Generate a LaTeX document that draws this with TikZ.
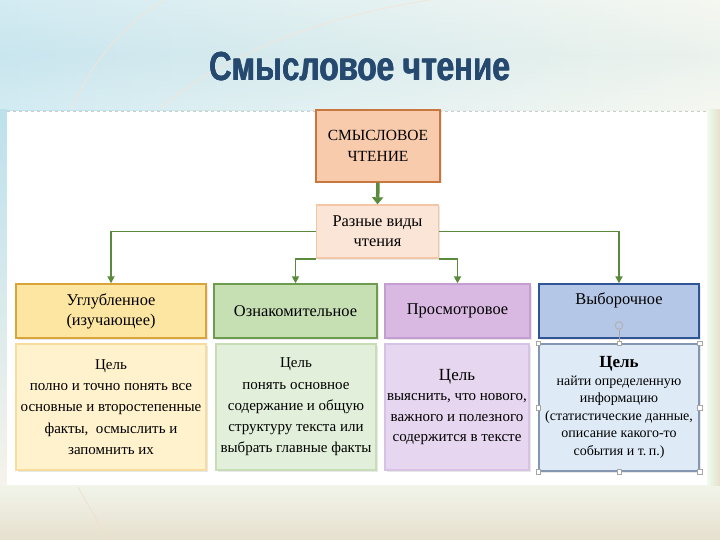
\documentclass[tikz,border=0pt]{standalone}
\usepackage{fontspec}
\setmainfont{Liberation Serif}
\newfontfamily\titlefont{Liberation Sans}
\usetikzlibrary{arrows.meta,shadows}
\definecolor{bgL}{HTML}{BCE1EC}
\definecolor{bgM}{HTML}{E2EFF2}
\definecolor{bgR}{HTML}{F1F4EA}
\definecolor{beige}{HTML}{E6E0CD}
\definecolor{titleC}{HTML}{25496F}
\definecolor{conn}{HTML}{5A8A3C}
\definecolor{topF}{HTML}{F8CBAD}\definecolor{topD}{HTML}{C8773F}
\definecolor{kindF}{HTML}{FBE5D6}\definecolor{kindD}{HTML}{F2C6A6}
\definecolor{yF}{HTML}{FDE6A2}\definecolor{yD}{HTML}{D9A53A}
\definecolor{gF}{HTML}{C6E0B4}\definecolor{gD}{HTML}{6E9C4E}
\definecolor{pF}{HTML}{D9B8E2}\definecolor{pD}{HTML}{C49ED2}
\definecolor{bF}{HTML}{B4C7E7}\definecolor{bD}{HTML}{2F5597}
\definecolor{ylF}{HTML}{FFF2CC}\definecolor{ylD}{HTML}{F6DD9C}
\definecolor{glF}{HTML}{E2EFDA}\definecolor{glD}{HTML}{C6DDB6}
\definecolor{plF}{HTML}{E7D6F0}\definecolor{plD}{HTML}{D8C2E4}
\definecolor{blF}{HTML}{DEEBF7}\definecolor{blD}{HTML}{8497B0}
\tikzset{
  box/.style={draw, line width=1.4pt, align=center, inner sep=2pt,
    drop shadow={opacity=0.18, shadow xshift=1.5pt, shadow yshift=-1.5pt}},
  head/.style={font=\fontsize{16.4}{20}\selectfont},
  goal/.style={font=\fontsize{15}{21.3}\selectfont},
  connline/.style={draw=conn, line width=1.7pt, -{Triangle[width=7pt,length=7pt]}},
  handle/.style={draw=gray!70, fill=white, line width=0.5pt, minimum size=4.5pt, inner sep=0pt},
  ttl/.style={text=titleC, font=\titlefont\bfseries\fontsize{30}{30}\selectfont},
}
\begin{document}
\begin{tikzpicture}[x=1pt,y=-1pt]
\useasboundingbox (0,0) rectangle (720,540);
% background
\shade[left color=bgL, middle color=bgM, right color=bgR] (0,0) rectangle (720,540);
\shade[top color=white, bottom color=white, middle color=bgM, opacity=0.35] (0,0) rectangle (720,110);
\shade[top color=bgR, bottom color=beige] (0,485) rectangle (720,540);
\shade[top color=bgL, bottom color=white!60!beige] (0,110) rectangle (7,485);
\shade[left color=white!70!bgR!95!green, right color=beige] (707,110) rectangle (720,485);
\draw[white!80!brown, line width=0.8pt] (72,108) .. controls (95,55) and (130,20) .. (165,0);
\draw[white!80!brown, line width=0.8pt] (160,108) .. controls (230,50) and (330,15) .. (430,0);
\draw[white!75!brown, line width=0.8pt] (78,487) -- (108,540);
% title (slightly emboldened by overprinting)
\node[ttl] at (359.6,67) {\scalebox{1.05}[1.35]{Смысловое чтение}};
\node[ttl] at (360.4,67) {\scalebox{1.05}[1.35]{Смысловое чтение}};
\node[ttl] (title) at (360,67) {\scalebox{1.05}[1.35]{Смысловое чтение}};
% panel
\fill[white] (7,111) rectangle (707,485);
\draw[gray!40, dashed, line width=0.5pt] (7,111) -- (707,111);
% boxes
\node[box, fill=topF, draw=topD, minimum width=124pt, minimum height=72pt,
  font=\fontsize{15.5}{21}\selectfont] (top) at (378,146) {СМЫСЛОВОЕ\\ЧТЕНИЕ};
\node[box, head, fill=kindF, draw=kindD, minimum width=122pt, minimum height=53pt] (kinds) at (377.5,231.5) {Разные виды\\чтения};
\node[box, head, fill=yF, draw=yD, minimum width=190pt, minimum height=54pt] (deep) at (111,311) {Углубленное\\(изучающее)};
\node[box, head, fill=gF, draw=gD, minimum width=163pt, minimum height=54pt] (intro) at (295.5,311) {Ознакомительное};
\node[box, head, fill=pF, draw=pD, minimum width=145pt, minimum height=54pt] (view) at (457.5,311) {Просмотровое};
\node[box, fill=bF, draw=bD, minimum width=160pt, minimum height=54pt] (sel) at (619,311) {};
\node[head] (seltext) at (619,300) {Выборочное};
% goal boxes
\node[box, goal, fill=ylF, draw=ylD, minimum width=190pt, minimum height=126pt] (g1) at (111,407)
  {Цель\\полно и точно понять все\\основные и второстепенные\\факты,\ \ осмыслить и\\запомнить их};
\node[box, goal, fill=glF, draw=glD, minimum width=160pt, minimum height=126pt] (g2) at (296,407)
  {Цель\\понять основное\\содержание и общую\\структуру текста или\\выбрать главные факты};
\node[box, fill=plF, draw=plD, minimum width=144pt, minimum height=126pt,
  font=\fontsize{15}{20.5}\selectfont] (g3) at (457,407)
  {{\fontsize{17}{20.5}\selectfont Цель}\\выяснить, что нового,\\важного и полезного\\содержится в тексте};
\node[box, fill=blF, draw=blD, minimum width=160pt, minimum height=127pt,
  font=\fontsize{14}{17.5}\selectfont] (g4) at (619,407.5)
  {{\fontsize{17}{18.5}\selectfont\bfseries Цель}\\найти определенную\\информацию\\(статистические данные,\\описание какого-то\\события и т.\,п.)};
% connectors
\draw[conn, line width=3.5pt, -{Triangle[width=11pt,length=7pt]}] (top.south) -- (kinds.north);
\draw[connline] (kinds.west) -| (deep.north);
\draw[connline] (kinds.south west) -| (intro.north);
\draw[connline] (kinds.south east) -| (view.north);
\draw[connline] (kinds.east) -| (sel.north);
% selection handles
\draw[gray!70, line width=0.5pt] (g4.north) -- ++(0,-13);
\draw[gray!60, line width=1pt] (619,325.5) circle (3.8pt);
\foreach \a in {north west,north,north east,west,east,south west,south,south east}
  \node[handle] at (g4.\a) {};
\end{tikzpicture}
\end{document}
